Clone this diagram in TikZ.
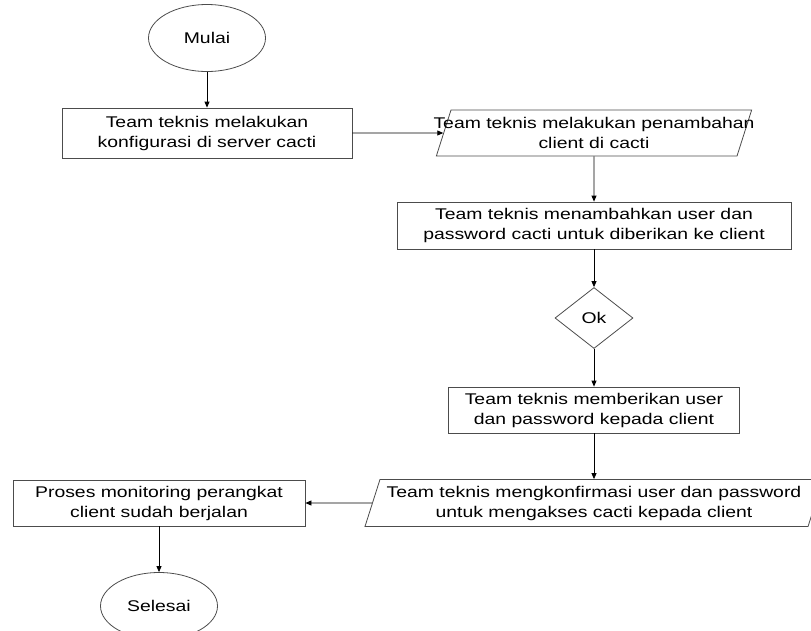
\documentclass[tikz,border=0pt]{standalone}
\usepackage{fontspec}
\setmainfont{Liberation Sans}[FakeStretch=1.25]
\usetikzlibrary{shapes.geometric,arrows.meta}

\begin{document}
\begin{tikzpicture}[x=1pt,y=-1pt,
    every node/.style={font=\fontsize{15.5}{20}\selectfont, align=center},
    proses/.style={draw=black!70, line width=0.8pt, rectangle, inner sep=0pt},
    io/.style={draw=black!70, line width=0.8pt, trapezium, trapezium left angle=70,
        trapezium right angle=110, trapezium stretches=true, inner sep=3pt},
    terminal/.style={draw=black!70, line width=0.8pt, ellipse, minimum width=117pt,
        minimum height=67pt, inner sep=0pt},
    cek/.style={draw=black!70, line width=0.8pt, diamond, minimum width=78pt,
        minimum height=61pt, inner sep=0pt},
    panah/.style={-{Triangle[length=6pt,width=5pt]}, line width=0.8pt, black}]
        \useasboundingbox (0,0) rectangle (811,630);

        % kolom kiri atas
        \node [terminal] (mulai) at (207,38) {Mulai};
        \node [proses, minimum width=290pt, minimum height=50pt] (konfig) at (207,133)
            {Team teknis melakukan\\konfigurasi di server cacti};

        % kolom kanan
        \node [io, minimum width=316pt, minimum height=46pt] (tambah) at (594,133)
            {\makebox[260pt]{Team teknis melakukan penambahan}\\client di cacti};
        \node [proses, minimum width=394pt, minimum height=47pt] (user) at (594,225.5)
            {Team teknis menambahkan user dan\\password cacti untuk diberikan ke client};
        \node [cek] (ok) at (594,318) {Ok};
        \node [proses, minimum width=291pt, minimum height=46pt] (beri) at (594,410)
            {Team teknis memberikan user\\dan password kepada client};
        \node [io, minimum width=460pt, minimum height=47pt] (konfirm) at (594,503)
            {Team teknis mengkonfirmasi user dan password\\untuk mengakses cacti kepada client};

        % kolom kiri bawah
        \node [proses, minimum width=292pt, minimum height=46pt] (monitor) at (159,503)
            {Proses monitoring perangkat\\client sudah berjalan};
        \node [terminal] (selesai) at (159,606) {Selesai};

        \draw [panah] (mulai) -- (konfig);
        \draw [panah] (konfig) -- (tambah);
        \draw [panah] (tambah) -- (user);
        \draw [panah] (user) -- (ok);
        \draw [panah] (ok) -- (beri);
        \draw [panah] (beri) -- (konfirm);
        \draw [panah] (konfirm) -- (monitor);
        \draw [panah] (monitor) -- (selesai);
    \end{tikzpicture}
\end{document}
